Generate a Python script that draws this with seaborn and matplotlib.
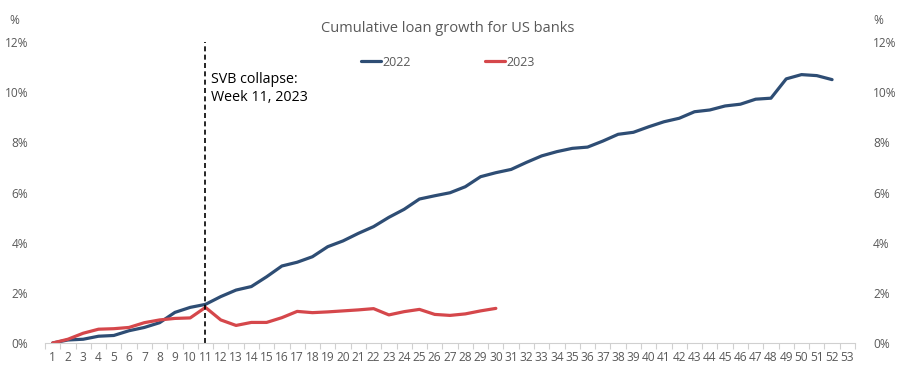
import numpy as np
import pandas as pd
import seaborn as sns
import matplotlib.pyplot as plt
from matplotlib.ticker import FixedLocator

# values (cumulative % growth by week)
weeks = list(range(1, 54))
loan_2022 = [0.00, 0.12, 0.15, 0.27, 0.30, 0.49, 0.62, 0.81, 1.22, 1.42,
             1.54, 1.85, 2.11, 2.25, 2.64, 3.07, 3.22, 3.44, 3.84, 4.07,
             4.37, 4.64, 5.01, 5.33, 5.74, 5.87, 5.99, 6.23, 6.63, 6.79,
             6.92, 7.20, 7.46, 7.63, 7.76, 7.81, 8.05, 8.32, 8.40, 8.62,
             8.82, 8.96, 9.22, 9.29, 9.45, 9.52, 9.72, 9.76, 10.53, 10.70,
             10.66, 10.50]
loan_2023 = [0.00, 0.15, 0.39, 0.55, 0.57, 0.62, 0.81, 0.92, 0.98, 1.00,
             1.42, 0.92, 0.70, 0.82, 0.82, 1.01, 1.26, 1.21, 1.24, 1.28,
             1.32, 1.37, 1.12, 1.25, 1.34, 1.14, 1.10, 1.16, 1.28, 1.38]
y_ticks = [0, 2, 4, 6, 8, 10, 12]
svb_week = 11

df = pd.concat([
    pd.DataFrame({'week': weeks[:len(loan_2022)], 'growth': loan_2022, 'year': '2022'}),
    pd.DataFrame({'week': weeks[:len(loan_2023)], 'growth': loan_2023, 'year': '2023'}),
])

sns.set_theme(style='white')
plt.rcParams['font.family'] = ['Open Sans', 'DejaVu Sans']

grey = '#595959'
fig = plt.figure(figsize=(9.1, 3.79), dpi=100)
ax = fig.add_axes([45 / 910, 1 - 343 / 379, 810 / 910, 301 / 379])

sns.lineplot(data=df, x='week', y='growth', hue='year',
             palette={'2022': '#2E4D74', '2023': '#D5474B'},
             linewidth=2.3, ax=ax, legend=False)

ax.vlines(svb_week, 0, 12, colors='black', linestyles=(0, (3, 2)), linewidth=1.2)
ax.text(svb_week + 0.35, 10.15, 'SVB collapse:\nWeek 11, 2023', fontsize=10.3,
        color='black', va='center', ha='left', linespacing=1.25)

ax.set_xlim(0.5, 53.5)
ax.set_ylim(0, 12)
ax.set_xticks(weeks)
ax.set_xticklabels([str(w) for w in weeks], fontsize=8.6, color=grey)
ax.xaxis.set_minor_locator(FixedLocator(np.arange(0.5, 54, 1)))
ax.tick_params(axis='x', which='major', length=0, pad=6)
ax.tick_params(axis='x', which='minor', length=4, color='#D0D0D0', width=0.8, bottom=True)
ax.set_yticks(y_ticks)
ax.set_yticklabels([f'{t}%' for t in y_ticks], fontsize=8.6, color=grey)
ax.tick_params(axis='y', length=0, pad=12)
ax.set_xlabel('')
ax.set_ylabel('')
for s in ['top', 'right', 'left']:
    ax.spines[s].set_visible(False)
ax.spines['bottom'].set_color('#D0D0D0')
ax.spines['bottom'].set_linewidth(0.8)

ax2 = ax.twinx()
ax2.set_ylim(0, 12)
ax2.set_yticks(y_ticks)
ax2.set_yticklabels([f'{t}%' for t in y_ticks], fontsize=8.6, color=grey)
ax2.tick_params(axis='y', length=0, pad=13)
for s in ax2.spines.values():
    s.set_visible(False)
ax2.grid(False)

fig.text(9 / 910, 1 - 20 / 379, '%', fontsize=8.6, color=grey, va='center', ha='left')
fig.text(873 / 910, 1 - 20 / 379, '%', fontsize=8.6, color=grey, va='center', ha='left')

fig.text(448 / 910, 1 - 28 / 379, 'Cumulative loan growth for US banks',
         fontsize=10.5, color=grey, ha='center', va='center')

# legend drawn as a row of handles
handles = [plt.Line2D([], [], color='#2E4D74', lw=2.3),
           plt.Line2D([], [], color='#D5474B', lw=2.3)]
fig.legend(handles, ['2022', '2023'], loc='center', bbox_to_anchor=(448 / 910, 1 - 62 / 379),
           ncol=2, frameon=False, fontsize=9, handlelength=1.6, handletextpad=0.15,
           columnspacing=5.9, labelcolor=grey)

fig.savefig('out.png', dpi=100)
